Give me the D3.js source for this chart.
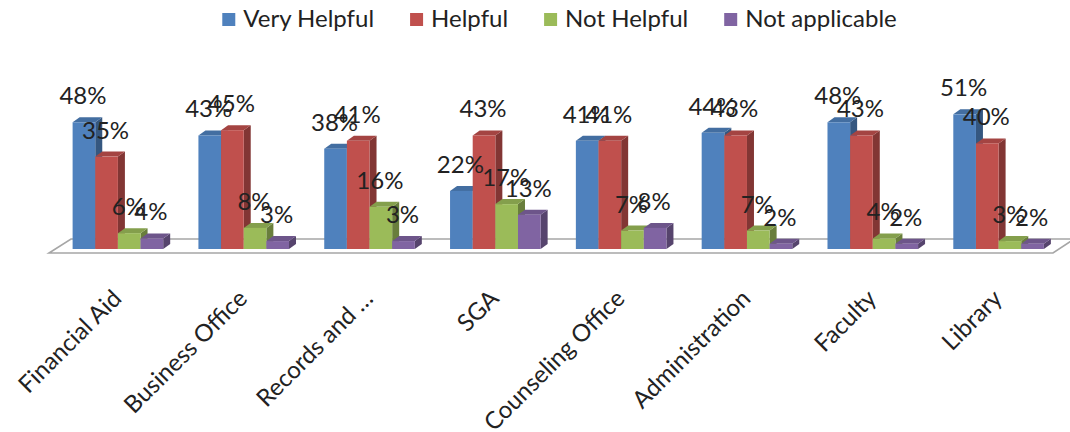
<!DOCTYPE html>
<html>
<head>
<meta charset="utf-8">
<script src="https://cdn.jsdelivr.net/npm/d3@7"></script>
<style>
  html, body { margin: 0; padding: 0; background: #ffffff; }
  svg { display: block; }
  text { font-family: Lato, "Open Sans", sans-serif; fill: #222; }
</style>
</head>
<body>
<svg id="chart" width="1070" height="432"></svg>
<script>
// Categories and survey results (percent of respondents)
const categories = ["Financial Aid", "Business Office", "Records and …", "SGA",
                    "Counseling Office", "Administration", "Faculty", "Library"];
const seriesNames = ["Very Helpful", "Helpful", "Not Helpful", "Not applicable"];
const veryHelpful   = [48, 43, 38, 22, 41, 44, 48, 51];
const helpful       = [35, 45, 41, 43, 41, 43, 43, 40];
const notHelpful    = [6, 8, 16, 17, 7, 7, 4, 3];
const notApplicable = [4, 3, 3, 13, 8, 2, 2, 2];
const seriesColors  = ["#4F81BD", "#C0504D", "#9BBB59", "#8064A2"];

const seriesValues = [veryHelpful, helpful, notHelpful, notApplicable];

const W = 1070, H = 432;
const svg = d3.select("#chart");
svg.append("rect").attr("width", W).attr("height", H).attr("fill", "#fff");

// Scales
const x0 = d3.scaleBand().domain(categories).range([55, 1061.5])
  .paddingInner(0.28).paddingOuter(0.14);
const x1 = d3.scaleBand().domain(seriesNames).range([0, x0.bandwidth()]).padding(0);
const y = d3.scaleLinear().domain([0, 60]).range([249, 249 - 2.64 * 60]);

// Depth offset of the pseudo-3D columns
const dx = 7, dy = -5;

// Floor (thin parallelogram under the columns)
const yFloorFront = y(0) + 4, yFloorBack = y(0) - 10;
svg.append("polygon")
  .attr("points", [[49, yFloorFront], [1053, yFloorFront], [1074, yFloorBack], [71, yFloorBack]].join(" "))
  .attr("fill", "#fff").attr("stroke", "#a6a6a6").attr("stroke-width", 1.6);

// Columns
const bars = [];
categories.forEach((c, i) => {
  seriesNames.forEach((s, j) => {
    bars.push({ cat: c, series: s, value: seriesValues[j][i], color: seriesColors[j] });
  });
});

const g = svg.append("g");
const bw = x1.bandwidth();
bars.forEach(d => {
  const xl = x0(d.cat) + x1(d.series);
  const yt = y(d.value), yb = y(0);
  const base = d3.color(d.color);
  const cell = g.append("g");
  // right side face
  cell.append("polygon")
    .attr("points", [[xl + bw, yt], [xl + bw + dx, yt + dy], [xl + bw + dx, yb + dy], [xl + bw, yb]].join(" "))
    .attr("fill", base.darker(1.1));
  // top face
  cell.append("polygon")
    .attr("points", [[xl, yt], [xl + bw, yt], [xl + bw + dx, yt + dy], [xl + dx, yt + dy]].join(" "))
    .attr("fill", base.darker(0.45));
  // front face
  cell.append("rect")
    .attr("x", xl).attr("y", yt).attr("width", bw).attr("height", yb - yt)
    .attr("fill", d.color);
});

// Value labels
svg.append("g").selectAll("text").data(bars).join("text")
  .attr("x", d => x0(d.cat) + x1(d.series) + bw / 2 - 1)
  .attr("y", d => y(d.value) - 18)
  .attr("text-anchor", "middle")
  .attr("font-size", 24)
  .text(d => d.value + "%");

// Category labels, rotated
svg.append("g").selectAll("text").data(categories).join("text")
  .attr("transform", d => `translate(${x0(d) + x0.bandwidth() / 2 + 5},${300}) rotate(-45)`)
  .attr("text-anchor", "end")
  .attr("font-size", 24)
  .text(d => d);

// Legend
const legend = svg.append("g");
const items = legend.selectAll("g").data(seriesNames).join("g");
items.append("rect").attr("width", 13).attr("height", 13).attr("y", 13)
  .attr("fill", (d, i) => seriesColors[i]);
items.append("text").attr("x", 21).attr("y", 27).attr("font-size", 24).text(d => d);
let cursor = 0;
const offsets = [];
items.each(function () {
  offsets.push(cursor);
  const tw = d3.select(this).select("text").node().getComputedTextLength();
  cursor += 21 + tw + 36;
});
const total = cursor - 36;
const start = 559.5 - total / 2;
items.attr("transform", (d, i) => `translate(${start + offsets[i]},0)`);
</script>
</body>
</html>
